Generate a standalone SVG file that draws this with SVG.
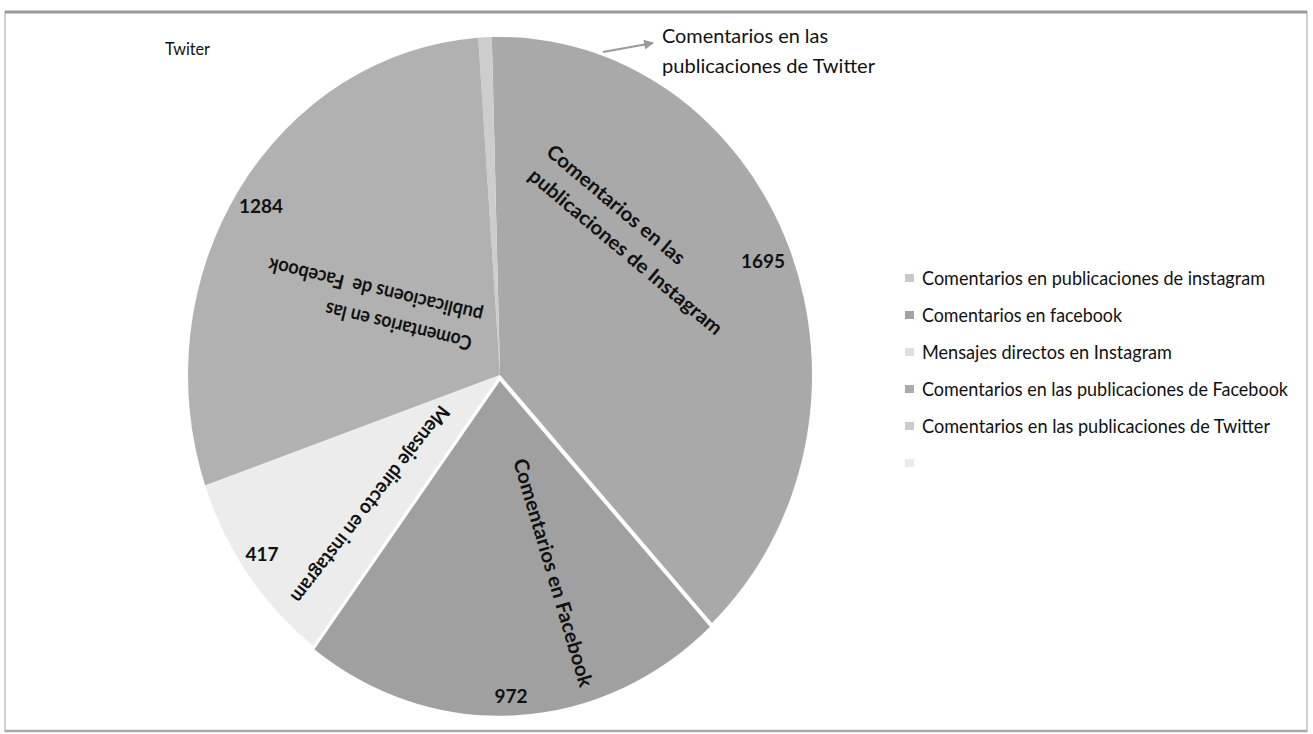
<svg xmlns="http://www.w3.org/2000/svg" width="1313" height="734" viewBox="0 0 1313 734">
  <style>
    .t{font-family:Lato,"Liberation Sans",sans-serif;fill:#111;}
    .lg{font-size:19px;}
    .pl{font-size:20px;font-weight:bold;white-space:pre;}
    .num{font-size:19px;font-weight:bold;text-anchor:middle;}
  </style>
  <defs>
    <marker id="arr" viewBox="0 0 10 10" refX="9" refY="5" markerWidth="5" markerHeight="5" orient="auto">
      <path d="M0,0 L10,5 L0,10 z" fill="#9a9a9a"/>
    </marker>
  </defs>
  <rect x="0" y="0" width="1313" height="734" fill="#ffffff"/>
  <!-- scan frame -->
  <rect x="5" y="12" width="1302" height="719" fill="none" stroke="#c4c4c4" stroke-width="1.5"/>
  <line x1="5" y1="12" x2="1307" y2="12" stroke="#9a9a9a" stroke-width="3"/>
  <line x1="5" y1="731" x2="1307" y2="731" stroke="#a8a8a8" stroke-width="2.5"/>

  <g id="pie">
    <g id="slice-instagram"><path d="M500,375 L491.83,37.11 A312,338 0 0,1 711.99,623 Z" fill="#a9a9a9"/></g>
    <g id="slice-twitter"><path d="M500,375 L478.23,37.82 A312,338 0 0,1 491.83,37.11 Z" fill="#cdcdcd"/></g>
    <g id="slice-facebook-pub"><path d="M500,375 L205.18,485.6 A312,338 0 0,1 478.23,37.82 Z" fill="#b1b1b1"/></g>
    <g id="slice-mensaje"><path d="M500,375 L313.11,645.65 A312,338 0 0,1 205.18,485.6 Z" fill="#ececec"/></g>
    <g id="slice-facebook"><path d="M500,375 L711.99,623 A312,338 0 0,1 313.11,645.65 Z" transform="translate(-0.3,4)" fill="#a0a0a0" stroke="#ffffff" stroke-width="2.5" stroke-linejoin="miter"/></g>
  </g>

  <g id="connectors">
    <line x1="603" y1="52" x2="653" y2="43" stroke="#9a9a9a" stroke-width="2" marker-end="url(#arr)"/>
  </g>

  <g id="label-twiter"><text class="t" x="165" y="55" font-size="17" textLength="45" lengthAdjust="spacingAndGlyphs">Twiter</text></g>

  <g id="callout-twitter">
    <text class="t" x="662" y="43" font-size="20" textLength="166" lengthAdjust="spacingAndGlyphs">Comentarios en las</text>
    <text class="t" x="662" y="73" font-size="20" textLength="213" lengthAdjust="spacingAndGlyphs">publicaciones de Twitter</text>
  </g>

  <g id="label-instagram">
    <text class="t pl" transform="translate(545,154) rotate(40)" textLength="174" lengthAdjust="spacingAndGlyphs">Comentarios en las</text>
    <text class="t pl" transform="translate(527,178) rotate(40)" textLength="246" lengthAdjust="spacingAndGlyphs">publicaciones de Instagram</text>
    <text class="t num" x="763" y="268">1695</text>
  </g>

  <g id="label-facebook-pub">
    <text class="t pl" transform="translate(473,337) rotate(193.5)" font-size="19" textLength="150" lengthAdjust="spacingAndGlyphs">Comentarios en las</text>
    <text class="t pl" transform="translate(484,309) rotate(193.5)" font-size="19" textLength="220" lengthAdjust="spacingAndGlyphs">publicacioens de  Facebook</text>
    <text class="t num" x="261" y="213">1284</text>
  </g>

  <g id="label-mensaje">
    <text class="t pl" transform="translate(440,404) rotate(128)" textLength="244" lengthAdjust="spacingAndGlyphs">Mensaje directo en instagram</text>
    <text class="t num" x="262" y="561">417</text>
  </g>

  <g id="label-facebook">
    <text class="t pl" transform="translate(513,461) rotate(73.6)" textLength="237" lengthAdjust="spacingAndGlyphs">Comentarios en Facebook</text>
    <text class="t num" x="511" y="703">972</text>
  </g>

  <g id="legend">
    <rect x="905" y="274" width="9" height="8" fill="#c9c9c9"/>
    <text class="t lg" x="922" y="285" textLength="343" lengthAdjust="spacingAndGlyphs">Comentarios en publicaciones de instagram</text>
    <rect x="905" y="311" width="9" height="8" fill="#a3a3a3"/>
    <text class="t lg" x="922" y="322" textLength="200" lengthAdjust="spacingAndGlyphs">Comentarios en facebook</text>
    <rect x="905" y="348" width="9" height="8" fill="#dedede"/>
    <text class="t lg" x="922" y="359" textLength="250" lengthAdjust="spacingAndGlyphs">Mensajes directos en Instagram</text>
    <rect x="905" y="385" width="9" height="8" fill="#ababab"/>
    <text class="t lg" x="922" y="396" textLength="366" lengthAdjust="spacingAndGlyphs">Comentarios en las publicaciones de Facebook</text>
    <rect x="905" y="422" width="9" height="8" fill="#cbcbcb"/>
    <text class="t lg" x="922" y="433" textLength="348" lengthAdjust="spacingAndGlyphs">Comentarios en las publicaciones de Twitter</text>
    <rect x="905" y="459" width="9" height="8" fill="#eaeaea"/>
  </g>
</svg>
